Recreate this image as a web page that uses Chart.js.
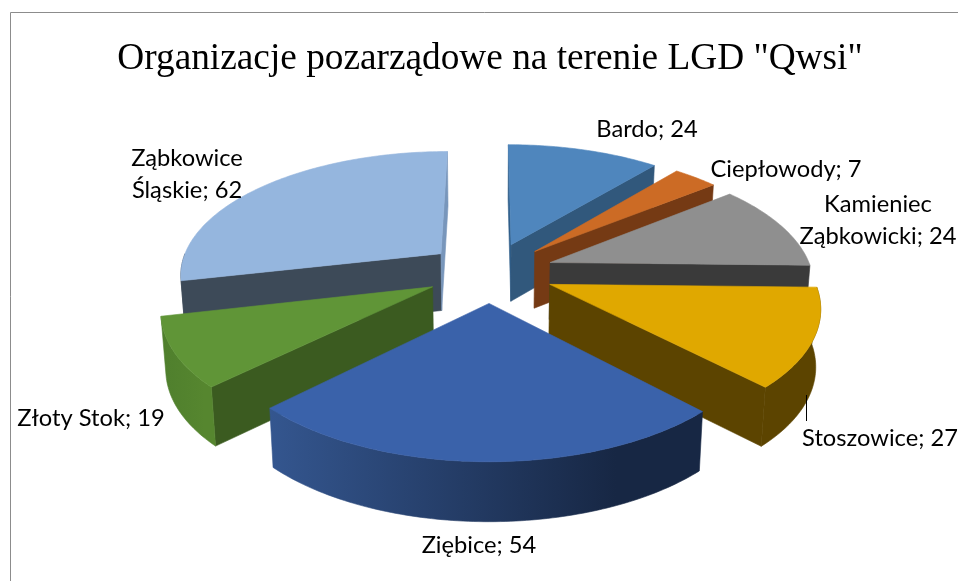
<!DOCTYPE html>
<html>
<head>
<meta charset="utf-8">
<script src="https://cdn.jsdelivr.net/npm/chart.js@4/dist/chart.umd.min.js"></script>
<style>
html, body { margin: 0; padding: 0; background: #fff; overflow: hidden; }
#wrap { width: 958px; height: 581px; }
</style>
</head>
<body>
<div id="wrap"><canvas id="graph"></canvas></div>
<script>
const titleText = 'Organizacje pozarządowe na terenie LGD "Qwsi"';
const categories = ['Bardo', 'Ciepłowody', 'Kamieniec Ząbkowicki', 'Stoszowice', 'Ziębice', 'Złoty Stok', 'Ząbkowice Śląskie'];
const values = [24, 7, 24, 27, 54, 19, 62];

const topColors = ['#4f86bd', '#cc6b25', '#8f8f8f', '#e0a800', '#3a62aa', '#609537', '#95b6de'];
const startFaceColors = ['#2f5e8a', '#753a14', '#3a3a3a', '#5c4400', '#2f5088', '#3b5b20', '#3d4a58'];
const endFaceColors = ['#31587c', '#753a14', '#3a3a3a', '#5c4400', '#172744', '#3b5b20', '#7896bb'];
const rimLeft = ['#31587c', '#753a14', '#3a3a3a', '#5c4400', '#34568f', '#4f7f2d', '#3d4a58'];
const rimRight = ['#31587c', '#753a14', '#3a3a3a', '#5c4400', '#172744', '#56862f', '#3d4a58'];

// wrapped labels: name; value
const wrapLabel = [false, false, true, false, false, false, true];
// label spots on the page, [centre x, centre y]
const labelSpots = [[647, 129], [786, 169], [878, 220], [880, 438], [479, 545], [91, 418], [187, 174]];

// view of the tilted pie
const tilt = 0.47, persp = 0.154, explode = 0.245, wall = 0.218;

const pie3d = {
    id: 'pie3d',
    beforeDatasetsDraw(chart) {
        const ctx = chart.ctx;
        const arcs = chart.getDatasetMeta(0).data;

        // frame of the picture, only left and top are in view
        ctx.save();
        ctx.strokeStyle = '#8c8c8c';
        ctx.lineWidth = 1;
        ctx.beginPath();
        ctx.moveTo(10.5, 581);
        ctx.lineTo(10.5, 12.5);
        ctx.lineTo(958, 12.5);
        ctx.stroke();
        ctx.restore();

        const order = arcs.map((a, i) => i).sort((a, b) => mid(arcs[a]).v - mid(arcs[b]).v);
        order.forEach(i => drawSlice(ctx, arcs[i], i));
        return false;
    },
    afterDraw(chart) {
        const ctx = chart.ctx;
        ctx.save();
        ctx.strokeStyle = '#000';
        ctx.lineWidth = 1;
        ctx.beginPath();
        ctx.moveTo(806.5, 395);
        ctx.lineTo(806.5, 421);
        ctx.stroke();

        ctx.fillStyle = '#000';
        ctx.font = '23.7px Lato';
        ctx.textAlign = 'center';
        ctx.textBaseline = 'middle';
        categories.forEach((name, i) => {
            let lines = [name + '; ' + values[i]];
            if (wrapLabel[i]) {
                const cut = name.indexOf(' ');
                lines = [name.slice(0, cut), name.slice(cut + 1) + '; ' + values[i]];
            }
            lines.forEach((line, n) => {
                const y = labelSpots[i][1] + (n - (lines.length - 1) / 2) * 32;
                ctx.fillText(line, labelSpots[i][0], y);
            });
        });
        ctx.restore();
    }
};

function mid(arc) {
    const a = (arc.startAngle + arc.endAngle) / 2;
    return { u: Math.cos(a), v: Math.sin(a) };
}

// disc coords (u right, v to the viewer) to the page, z=1 is the bottom of the pie
function project(arc, u, v, z) {
    const R = arc.outerRadius;
    const s = 1 / (1 - persp * v);
    const shrink = z ? 0.985 : 1;
    return {
        x: arc.x + R * u * s * shrink,
        y: arc.y + R * tilt * v * s + z * R * wall * (1 + 0.04 * v)
    };
}

function rimPoints(arc, from, to, z, m) {
    const pts = [];
    const n = Math.max(2, Math.ceil((to - from) * 60));
    for (let i = 0; i <= n; i++) {
        const a = from + (to - from) * i / n;
        pts.push(project(arc, Math.cos(a) + m.u * explode, Math.sin(a) + m.v * explode, z));
    }
    return pts;
}

function fillPoly(ctx, pts, color) {
    ctx.beginPath();
    pts.forEach((p, i) => i ? ctx.lineTo(p.x, p.y) : ctx.moveTo(p.x, p.y));
    ctx.closePath();
    ctx.fillStyle = color;
    ctx.strokeStyle = color;
    ctx.lineWidth = 0.6;
    ctx.fill();
    ctx.stroke();
}

function polyArea(pts) {
    let sum = 0;
    pts.forEach((p, i) => {
        const q = pts[(i + 1) % pts.length];
        sum += p.x * q.y - q.x * p.y;
    });
    return sum;
}

function drawSlice(ctx, arc, i) {
    const m = mid(arc);
    const a0 = arc.startAngle, a1 = arc.endAngle;
    const du = m.u * explode, dv = m.v * explode;
    const apexTop = project(arc, du, dv, 0), apexBottom = project(arc, du, dv, 1);

    // the two cut faces, only when turned to the viewer
    const face = a => [apexTop,
        project(arc, Math.cos(a) + du, Math.sin(a) + dv, 0),
        project(arc, Math.cos(a) + du, Math.sin(a) + dv, 1),
        apexBottom];
    const f0 = face(a0), f1 = face(a1);
    if (polyArea(f0) < 0) fillPoly(ctx, f0, startFaceColors[i]);
    if (polyArea(f1) > 0) fillPoly(ctx, f1, endFaceColors[i]);

    // outer wall, front half of the circle only (angles 0..PI in canvas terms)
    const twoPi = Math.PI * 2;
    const shift = Math.floor(a0 / twoPi) * twoPi;
    const from = Math.max(a0 - shift, 0), to = Math.min(a1 - shift, Math.PI);
    if (to > from) {
        const upper = rimPoints(arc, from, to, 0, m);
        const lower = rimPoints(arc, from, to, 1, m).reverse();
        const pts = upper.concat(lower);
        const xs = pts.map(p => p.x);
        const grad = ctx.createLinearGradient(Math.min(...xs), 0, Math.max(...xs), 0);
        grad.addColorStop(0, rimLeft[i]);
        grad.addColorStop(0.8, rimRight[i]);
        grad.addColorStop(1, rimRight[i]);
        fillPoly(ctx, pts, grad);
    }

    // top of the slice
    fillPoly(ctx, [apexTop].concat(rimPoints(arc, a0, a1, 0, m)), topColors[i]);
}

const myChart = new Chart(document.getElementById('graph').getContext('2d'), {
    type: 'pie',
    data: {
        labels: categories,
        datasets: [{
            data: values,
            backgroundColor: topColors,
            borderWidth: 0
        }]
    },
    plugins: [pie3d],
    options: {
        responsive: true,
        maintainAspectRatio: false,
        animation: false,
        radius: 262,
        layout: { padding: { left: 22, bottom: 124 } },
        plugins: {
            legend: { display: false },
            tooltip: { enabled: false },
            title: {
                display: true,
                text: titleText,
                color: '#000',
                font: { family: 'Liberation Serif', size: 37.3, weight: 'normal' },
                padding: { top: 37, bottom: 5.4 }
            }
        }
    }
});
</script>
</body>
</html>
